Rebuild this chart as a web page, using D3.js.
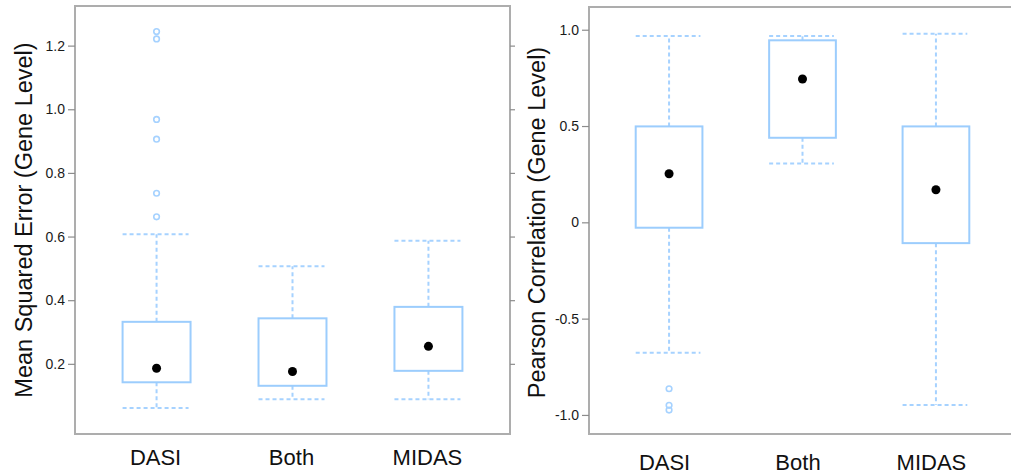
<!DOCTYPE html>
<html>
<head>
<meta charset="utf-8">
<script src="https://cdn.jsdelivr.net/npm/d3@7"></script>
<style>
  html, body { margin: 0; padding: 0; background: #fff; }
  svg { display: block; font-family: "Liberation Sans", Arial, sans-serif; }
</style>
</head>
<body>
<svg id="chart" width="1011" height="476"></svg>
<script>
// ---- data ----
const categories = ["DASI", "Both", "MIDAS"];

// Left panel: Mean Squared Error
const mseQ1 = [0.142, 0.131, 0.178];
const mseQ3 = [0.332, 0.343, 0.379];
const mseMean = [0.186, 0.176, 0.255];
const mseLow = [0.061, 0.089, 0.089];
const mseHigh = [0.607, 0.507, 0.587];
const mseOutliers = [[1.244, 1.221, 0.968, 0.906, 0.736, 0.662], [], []];
const mseTicks = [0.2, 0.4, 0.6, 0.8, 1.0, 1.2];
const mseTickLabels = ["0.2", "0.4", "0.6", "0.8", "1.0", "1.2"];

// Right panel: Pearson Correlation
const corQ1 = [-0.028, 0.439, -0.108];
const corQ3 = [0.498, 0.945, 0.498];
const corMean = [0.252, 0.744, 0.169];
const corLow = [-0.677, 0.306, -0.949];
const corHigh = [0.967, 0.967, 0.979];
const corOutliers = [[-0.864, -0.950, -0.975], [], []];
const corTicks = [-1.0, -0.5, 0, 0.5, 1.0];
const corTickLabels = ["-1.0", "-0.5", "0", "0.5", "1.0"];

const svg = d3.select("#chart");

const boxColor = "#9ccdfd";
const whiskerColor = "#a6d2ff";
const frameColor = "#adadad";

function panel(opts) {
  const g = svg.append("g");
  const x = d3.scalePoint().domain(categories).range([opts.left, opts.right]).padding(0.6);
  const y = d3.scaleLinear().domain(opts.domain).range([opts.bottom, opts.top]);
  const step = x.step();
  const bw = step * 0.5;

  // frame
  g.append("rect")
    .attr("x", opts.left).attr("y", opts.top)
    .attr("width", opts.right - opts.left).attr("height", opts.bottom - opts.top)
    .attr("fill", "none").attr("stroke", frameColor).attr("stroke-width", 2);

  // left axis
  const ax = g.append("g").attr("transform", `translate(${opts.left},0)`)
    .call(d3.axisLeft(y).tickValues(opts.ticks).tickSize(7).tickPadding(3)
      .tickFormat((d, i) => opts.tickLabels[i]));
  ax.select(".domain").remove();
  ax.selectAll(".tick line").attr("stroke", "#8c8c8c").attr("stroke-width", 1.2);
  ax.selectAll(".tick text").attr("fill", "#1a1a1a").style("font-size", "14px")
    .style("font-family", "'Liberation Sans', Arial, sans-serif");

  if (opts.rightTicks) {
    const axr = g.append("g").attr("transform", `translate(${opts.right},0)`)
      .call(d3.axisRight(y).tickValues(opts.ticks).tickSize(5).tickFormat(""));
    axr.select(".domain").remove();
    axr.selectAll(".tick line").attr("stroke", "#8c8c8c").attr("stroke-width", 1.2);
  }

  const idx = categories.map((c, i) => i);

  // whiskers (vertical)
  g.selectAll(".wup").data(idx).join("line")
    .attr("x1", i => x(categories[i])).attr("x2", i => x(categories[i]))
    .attr("y1", i => y(opts.q3[i])).attr("y2", i => y(opts.high[i]))
    .attr("stroke", whiskerColor).attr("stroke-width", 2).attr("stroke-dasharray", "4,3");
  g.selectAll(".wdn").data(idx).join("line")
    .attr("x1", i => x(categories[i])).attr("x2", i => x(categories[i]))
    .attr("y1", i => y(opts.q1[i])).attr("y2", i => y(opts.low[i]))
    .attr("stroke", whiskerColor).attr("stroke-width", 2).attr("stroke-dasharray", "4,3");
  // caps
  g.selectAll(".cup").data(idx).join("line")
    .attr("x1", i => x(categories[i]) - bw / 2).attr("x2", i => x(categories[i]) + bw / 2 - 2)
    .attr("y1", i => y(opts.high[i])).attr("y2", i => y(opts.high[i]))
    .attr("stroke", whiskerColor).attr("stroke-width", 2).attr("stroke-dasharray", "4,3");
  g.selectAll(".cdn").data(idx).join("line")
    .attr("x1", i => x(categories[i]) - bw / 2).attr("x2", i => x(categories[i]) + bw / 2 - 2)
    .attr("y1", i => y(opts.low[i])).attr("y2", i => y(opts.low[i]))
    .attr("stroke", whiskerColor).attr("stroke-width", 2).attr("stroke-dasharray", "4,3");

  // boxes
  g.selectAll(".box").data(idx).join("rect")
    .attr("x", i => x(categories[i]) - bw / 2)
    .attr("width", bw)
    .attr("y", i => y(opts.q3[i]))
    .attr("height", i => y(opts.q1[i]) - y(opts.q3[i]))
    .attr("fill", "#fff").attr("stroke", boxColor).attr("stroke-width", 2);

  // means
  g.selectAll(".mean").data(idx).join("circle")
    .attr("cx", i => x(categories[i])).attr("cy", i => y(opts.mean[i]))
    .attr("r", 4.5).attr("fill", "#000");

  // outliers
  const outs = [];
  opts.outliers.forEach((arr, i) => arr.forEach(v => outs.push({ c: categories[i], v })));
  g.selectAll(".out").data(outs).join("circle")
    .attr("cx", d => x(d.c)).attr("cy", d => y(d.v))
    .attr("r", 2.8).attr("fill", "none").attr("stroke", whiskerColor).attr("stroke-width", 1.6);

  // x labels
  g.selectAll(".xl").data(categories).join("text")
    .attr("x", d => x(d) + opts.labelDx).attr("y", opts.labelY)
    .attr("text-anchor", "middle")
    .style("font-size", "22px").attr("fill", "#111")
    .text(d => d);

  // y title
  g.append("text")
    .attr("transform", `translate(${opts.titleX},${opts.titleY}) rotate(-90)`)
    .attr("text-anchor", "middle")
    .style("font-size", "23.5px").attr("fill", "#111")
    .text(opts.title);
}

panel({
  left: 75, right: 510, top: 6, bottom: 434,
  domain: [-0.0205, 1.3245],
  ticks: mseTicks, tickLabels: mseTickLabels,
  q1: mseQ1, q3: mseQ3, mean: mseMean, low: mseLow, high: mseHigh, outliers: mseOutliers,
  rightTicks: true,
  labelY: 465, labelDx: -1,
  titleX: 31.5, titleY: 220,
  title: "Mean Squared Error (Gene Level)"
});

panel({
  left: 589, right: 1016, top: 7, bottom: 434,
  domain: [-1.099, 1.118],
  ticks: corTicks, tickLabels: corTickLabels,
  q1: corQ1, q3: corQ3, mean: corMean, low: corLow, high: corHigh, outliers: corOutliers,
  rightTicks: false,
  labelY: 470, labelDx: -4.5,
  titleX: 544.5, titleY: 222.5,
  title: "Pearson Correlation (Gene Level)"
});
</script>
</body>
</html>
